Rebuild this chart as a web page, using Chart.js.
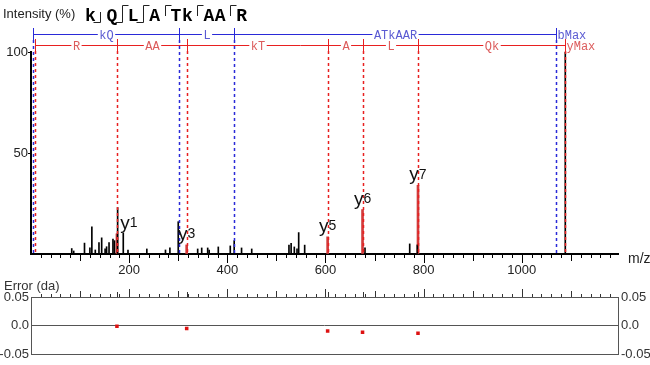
<!DOCTYPE html>
<html>
<head>
<meta charset="utf-8">
<script src="https://cdn.jsdelivr.net/npm/chart.js@4.4.0/dist/chart.umd.min.js"></script>
<style>
  body { margin: 0; background: #fff; width: 650px; height: 365px; overflow: hidden; position: relative; }
  canvas { position: absolute; left: 0; }
  #spec { top: 0; }
  #err { top: 278px; }
</style>
</head>
<body>
<canvas id="spec" width="650" height="290"></canvas>
<canvas id="err" width="650" height="87"></canvas>
<script>
// unmatched peaks (m/z, relative intensity %)
const peakMz = [83, 87, 109, 120, 124, 131, 138.5, 144, 151, 154, 159, 167, 170, 176.5, 188, 197.6,
  236, 274, 283, 300, 339.6, 347.8, 360, 363, 381.6, 406, 414, 429, 449.7,
  525.6, 530, 536.5, 542, 545.4, 557.6, 680.5, 771.6, 787, 1088.6];
const peakInt = [2.7, 1.5, 5.4, 3, 13.5, 2, 5.6, 8, 2.5, 3.6, 5.6, 7.4, 6.6, 23, 10.4, 2,
  2.5, 2, 3, 16, 2.5, 3, 3, 2, 3.5, 4, 6.6, 3, 2.5,
  4.4, 5.3, 3.5, 2.5, 10.6, 4.4, 3, 5, 4.5, 100];

// matched y ions
const ionNames = ['1', '3', '5', '6', '7'];
const ionMz = [175.1, 317.2, 604.4, 675.5, 788.5];
const ionInt = [10, 4.5, 8.5, 22, 34];
const ionErr = [-0.001, -0.005, -0.0095, -0.0115, -0.0135];

// fragment ladders
const bLadder = [4.5, 301.4, 413.6, 1069.6];
const bLadderLabels = ['kQ', 'L', 'ATkAAR'];
const yLadder = [8, 175.1, 317.2, 604.4, 675.5, 788.5, 1088.6];
const yLadderLabels = ['R', 'AA', 'kT', 'A', 'L', 'Qk'];

// axis ticks
const xLabelTicks = [200, 400, 600, 800, 1000];
const yTicks = [0, 50, 100];
const errTickVals = [-0.05, 0, 0.05];

// peptide
const peptide = ['k', 'Q', 'L', 'A', 'T', 'k', 'A', 'A', 'R'];
const bBreaks = [1, 2, 3];
const yBreaks = [2, 3, 4, 6, 8];

const xMin = 0, xMax = 1196;
const sans = '"Liberation Sans", Arial, sans-serif';
const mono = '"Liberation Mono", "Courier New", monospace';

function line(ctx, x1, y1, x2, y2) {
  ctx.beginPath();
  ctx.moveTo(x1, y1);
  ctx.lineTo(x2, y2);
  ctx.stroke();
}

function drawLadder(ctx, x, pos, labels, endLabel, rowY, lineCol, textCol, base) {
  const px = pos.map(v => Math.round(x.getPixelForValue(v)) + 0.5);
  ctx.strokeStyle = lineCol;
  ctx.lineWidth = 1.5;
  ctx.setLineDash([3, 3]);
  px.forEach(p => line(ctx, p, rowY + 6, p, base));
  ctx.setLineDash([]);
  ctx.lineWidth = 1;
  line(ctx, px[0], rowY + 0.5, px[px.length - 1], rowY + 0.5);
  px.forEach(p => line(ctx, p, rowY - 6, p, rowY + 6));
  ctx.font = '12px ' + mono;
  ctx.textBaseline = 'middle';
  ctx.textAlign = 'center';
  labels.forEach((t, i) => {
    const cx = (px[i] + px[i + 1]) / 2;
    const w = ctx.measureText(t).width + 3;
    ctx.fillStyle = '#fff';
    ctx.fillRect(cx - w / 2, rowY - 2, w, 5);
    ctx.fillStyle = textCol;
    ctx.fillText(t, cx, rowY + 2);
  });
  ctx.textAlign = 'left';
  ctx.fillStyle = textCol;
  ctx.fillText(endLabel, px[px.length - 1] + 1, rowY + 2);
}

const specDeco = {
  id: 'specDeco',
  afterDatasetsDraw(chart) {
    const { ctx, chartArea: a, scales: { x, y } } = chart;
    const base = y.getPixelForValue(0);
    ctx.save();

    drawLadder(ctx, x, bLadder, bLadderLabels, 'bMax', 34, '#2a2ad8', '#5a5ad2', base);
    drawLadder(ctx, x, yLadder, yLadderLabels, 'yMax', 45, '#e82020', '#dc5c5c', base);

    // ion labels
    ctx.fillStyle = '#111';
    ctx.textBaseline = 'alphabetic';
    ctx.textAlign = 'left';
    ionMz.forEach((m, i) => {
      const top = y.getPixelForValue(ionInt[i]);
      const bl = top - 5;
      ctx.font = '19px ' + sans;
      const w1 = ctx.measureText('y').width;
      ctx.font = '14px ' + sans;
      const w2 = ctx.measureText(ionNames[i]).width;
      const dx = i === 0 ? 12 : 0;
      const left = x.getPixelForValue(m) + dx - (w1 + w2) / 2;
      ctx.font = '19px ' + sans;
      ctx.fillText('y', left, bl);
      ctx.font = '14px ' + sans;
      ctx.fillText(ionNames[i], left + w1, bl - 1.5);
    });

    // x tick marks
    ctx.strokeStyle = '#000';
    ctx.lineWidth = 1;
    for (let v = 20; v < xMax; v += 20) {
      const p = Math.round(x.getPixelForValue(v)) + 0.5;
      const len = v % 200 === 0 ? 8 : v % 100 === 0 ? 6 : 3;
      line(ctx, p, base + 1, p, base + 1 + len);
    }

    // m/z label
    ctx.font = '14px ' + sans;
    ctx.fillStyle = '#222';
    ctx.textBaseline = 'middle';
    ctx.fillText('m/z', a.right + 10, base + 5);

    // title + peptide
    ctx.font = '13px ' + sans;
    ctx.fillText('Intensity (%)', 3, 14);
    ctx.font = 'bold 18px ' + mono;
    ctx.textBaseline = 'alphabetic';
    ctx.strokeStyle = '#222';
    let px = 85;
    const cw = 11.4;
    peptide.forEach((r, i) => {
      ctx.fillStyle = '#000';
      ctx.fillText(r, px, 21);
      px += cw;
      const n = i + 1;
      const isB = bBreaks.includes(n), isY = yBreaks.includes(n);
      if (isB || isY) {
        const mx = Math.round(px + 4) + 0.5;
        const t = isY ? 5.5 : 12;
        const b = isB ? 22.5 : 16;
        line(ctx, mx, t, mx, b);
        if (isY) line(ctx, mx, 5.5, mx + 6, 5.5);
        if (isB) line(ctx, mx - 7, 22.5, mx, 22.5);
        px += 10;
      }
    });
    ctx.restore();
  }
};

const peakData = peakMz.map((m, i) => ({ x: m, y: peakInt[i] }));
const ionData = ionMz.map((m, i) => ({ x: m, y: ionInt[i] }));

new Chart(document.getElementById('spec'), {
  type: 'bar',
  data: {
    datasets: [
      { data: peakData, backgroundColor: '#000', barThickness: 1, grouped: false },
      { data: ionData, backgroundColor: '#d23c3c', barThickness: 2, grouped: false }
    ]
  },
  options: {
    responsive: false,
    animation: false,
    layout: { padding: { left: 0, right: 32, top: 52, bottom: 0 } },
    plugins: { legend: { display: false }, tooltip: { enabled: false } },
    scales: {
      x: {
        type: 'linear', min: xMin, max: xMax, offset: false,
        grid: { display: false, drawTicks: false, offset: false },
        border: { color: '#000', width: 2 },
        afterBuildTicks: s => { s.ticks = xLabelTicks.map(v => ({ value: v })); },
        ticks: {
          autoSkip: false, maxRotation: 0,
          padding: 9, color: '#222', font: { family: sans, size: 13 },
          callback: v => String(v)
        },
        afterFit: s => { s.height = 36; }
      },
      y: {
        min: 0, max: 100,
        grid: {
          drawOnChartArea: false, drawTicks: true, tickLength: 3,
          color: c => c.tick && c.tick.value === 0 ? 'rgba(0,0,0,0)' : '#000'
        },
        border: { color: '#000', width: 2 },
        afterBuildTicks: s => { s.ticks = yTicks.map(v => ({ value: v })); },
        ticks: {
          padding: 0, color: '#222', font: { family: sans, size: 13 },
          callback: v => v === 0 ? '' : String(v)
        },
        afterFit: s => { s.width = 31; }
      }
    }
  },
  plugins: [specDeco]
});

const errDeco = {
  id: 'errDeco',
  afterDraw(chart) {
    const { ctx, chartArea: a, scales: { x } } = chart;
    ctx.save();
    ctx.strokeStyle = '#555';
    ctx.lineWidth = 1;
    ctx.strokeRect(Math.round(a.left) + 0.5, Math.round(a.top) + 0.5,
      Math.round(a.right - a.left), Math.round(a.bottom - a.top));
    ctx.strokeStyle = '#333';
    for (let v = 20; v < xMax; v += 20) {
      const p = Math.round(x.getPixelForValue(v)) + 0.5;
      const len = v % 200 === 0 ? 8 : v % 100 === 0 ? 6 : 3;
      line(ctx, p, a.top, p, a.top - len);
    }
    ionMz.forEach(m => {
      const p = Math.round(x.getPixelForValue(m)) + 0.5;
      line(ctx, p, a.top, p, a.top - 5);
    });
    ctx.fillStyle = '#333';
    ctx.font = '13px ' + sans;
    ctx.textBaseline = 'middle';
    ctx.fillText('Error (da)', 4, 8);
    ctx.restore();
  }
};

const errTicks = {
  callback: v => Math.abs(v) < 1e-9 ? '0.0' : v.toFixed(2),
  color: '#333', font: { family: sans, size: 13 }
};
const setErrTicks = s => { s.ticks = errTickVals.map(v => ({ value: v })); };

new Chart(document.getElementById('err'), {
  type: 'scatter',
  data: {
    datasets: [{
      data: ionMz.map((m, i) => ({ x: m, y: ionErr[i] })),
      pointStyle: 'rect', radius: 2.5, borderWidth: 0,
      backgroundColor: '#dd1111'
    }]
  },
  options: {
    responsive: false,
    animation: false,
    layout: { padding: { left: 0, right: 0, top: 19, bottom: 8 } },
    plugins: { legend: { display: false }, tooltip: { enabled: false } },
    scales: {
      x: { type: 'linear', min: xMin, max: xMax, display: false },
      y: {
        position: 'left', min: -0.05, max: 0.05,
        grid: {
          drawTicks: false,
          color: c => c.tick && Math.abs(c.tick.value) < 1e-9 ? '#555' : 'rgba(0,0,0,0)'
        },
        border: { display: false },
        afterBuildTicks: setErrTicks,
        ticks: Object.assign({ padding: 2 }, errTicks),
        afterFit: s => { s.width = 31; }
      },
      y2: {
        position: 'right', min: -0.05, max: 0.05,
        grid: { display: false, drawTicks: false },
        border: { display: false },
        afterBuildTicks: setErrTicks,
        ticks: Object.assign({ padding: 3 }, errTicks),
        afterFit: s => { s.width = 32; }
      }
    }
  },
  plugins: [errDeco]
});
</script>
</body>
</html>
